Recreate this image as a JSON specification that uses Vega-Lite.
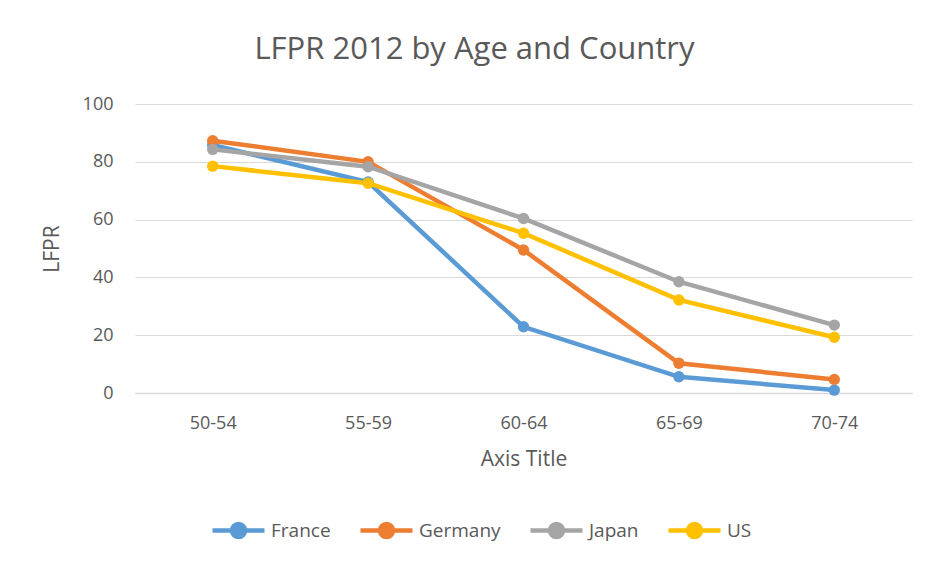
{
  "$schema": "https://vega.github.io/schema/vega-lite/v6.json",
  "autosize": {"type": "none"},
  "width": 777,
  "height": 289,
  "padding": {"left": 135, "top": 104, "right": 19, "bottom": 172},
  "background": "white",
  "title": {
    "text": "LFPR 2012 by Age and Country",
    "fontSize": 31,
    "font": "Open Sans",
    "fontWeight": "normal",
    "color": "#595959",
    "anchor": "middle",
    "dx": -49,
    "offset": 29
  },
  "data": {
    "values": [
      {"age": "50-54", "country": "France", "lfpr": 85.8},
      {"age": "55-59", "country": "France", "lfpr": 73.0},
      {"age": "60-64", "country": "France", "lfpr": 22.9},
      {"age": "65-69", "country": "France", "lfpr": 5.6},
      {"age": "70-74", "country": "France", "lfpr": 1.0},
      {"age": "50-54", "country": "Germany", "lfpr": 87.3},
      {"age": "55-59", "country": "Germany", "lfpr": 80.0},
      {"age": "60-64", "country": "Germany", "lfpr": 49.5},
      {"age": "65-69", "country": "Germany", "lfpr": 10.3},
      {"age": "70-74", "country": "Germany", "lfpr": 4.7},
      {"age": "50-54", "country": "Japan", "lfpr": 84.3},
      {"age": "55-59", "country": "Japan", "lfpr": 78.3},
      {"age": "60-64", "country": "Japan", "lfpr": 60.4},
      {"age": "65-69", "country": "Japan", "lfpr": 38.5},
      {"age": "70-74", "country": "Japan", "lfpr": 23.5},
      {"age": "50-54", "country": "US", "lfpr": 78.5},
      {"age": "55-59", "country": "US", "lfpr": 72.6},
      {"age": "60-64", "country": "US", "lfpr": 55.3},
      {"age": "65-69", "country": "US", "lfpr": 32.2},
      {"age": "70-74", "country": "US", "lfpr": 19.3}
    ]
  },
  "mark": {"type": "line", "strokeWidth": 4.5, "point": {"size": 130, "filled": true, "opacity": 1}},
  "encoding": {
    "x": {
      "field": "age",
      "type": "ordinal",
      "scale": {"type": "point", "padding": 0.5},
      "axis": {
        "title": "Axis Title",
        "labelAngle": 0,
        "labelFontSize": 18,
        "labelColor": "#595959",
        "labelFont": "Open Sans",
        "labelPadding": 21,
        "ticks": false,
        "domainColor": "#d9d9d9",
        "domainWidth": 1.5,
        "titleFontSize": 21,
        "titleFont": "Open Sans",
        "titleFontWeight": "normal",
        "titleColor": "#595959",
        "titlePadding": 16
      }
    },
    "y": {
      "field": "lfpr",
      "type": "quantitative",
      "scale": {"domain": [0, 100]},
      "axis": {
        "title": "LFPR",
        "values": [0, 20, 40, 60, 80, 100],
        "labelFontSize": 18,
        "labelColor": "#595959",
        "labelFont": "Open Sans",
        "labelPadding": 22,
        "ticks": false,
        "domain": false,
        "gridColor": "#d9d9d9",
        "gridWidth": 1,
        "titleFontSize": 21,
        "titleFont": "Open Sans",
        "titleFontWeight": "normal",
        "titleColor": "#595959",
        "titlePadding": 20
      }
    },
    "color": {
      "field": "country",
      "type": "nominal",
      "scale": {
        "domain": ["France", "Germany", "Japan", "US"],
        "range": ["#5B9BD5", "#ED7D31", "#A5A5A5", "#FFC000"]
      },
      "legend": {
        "title": null,
        "orient": "none",
        "direction": "horizontal",
        "legendX": 75,
        "legendY": 398,
        "symbolType": "M-1,0H1M-0.25,0A0.25,0.25 0 1,0 0.25,0A0.25,0.25 0 1,0 -0.25,0Z",
        "symbolSize": 2704,
        "symbolStrokeWidth": 4.5,
        "labelFontSize": 19,
        "labelFont": "Open Sans",
        "labelColor": "#595959",
        "labelOffset": 4,
        "columnPadding": 20
      }
    }
  },
  "config": {
    "view": {"stroke": null}
  }
}
